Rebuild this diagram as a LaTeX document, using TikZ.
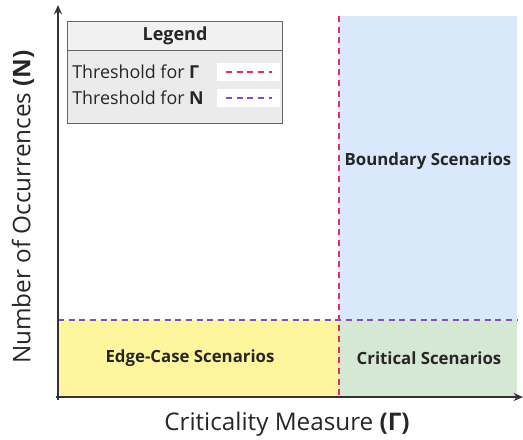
\documentclass[tikz,border=0pt]{standalone}
\usepackage{fontspec}
\setmainfont{Open Sans}
\usepackage{tikz}
\usetikzlibrary{arrows.meta}
\definecolor{bndblue}{HTML}{DAE8FC}
\definecolor{critgreen}{HTML}{D5E8D4}
\definecolor{edgeyellow}{HTML}{FFF59D}
\definecolor{gammared}{HTML}{DB2C77}
\definecolor{npurple}{HTML}{7E4FC8}
\definecolor{axisgray}{HTML}{333333}
\definecolor{legendgray}{HTML}{EBEBEB}

\begin{document}
\begin{tikzpicture}[x=0.75pt, y=-0.75pt,
      axis/.style={draw=axisgray, line width=1.2pt, -{Stealth[length=7pt,width=6pt]}},
      region/.style={font=\fontsize{12.6}{15}\selectfont\bfseries, text=black!85},
      axislabel/.style={font=\fontsize{18.2}{21}\selectfont, text=black!85},
      legendtext/.style={font=\fontsize{13.4}{16}\selectfont, text=black!85, anchor=west, inner sep=0pt},
      gthresh/.style={draw=gammared, line width=0.9pt, dash pattern=on 4.5pt off 3.5pt},
      nthresh/.style={draw=npurple, line width=0.9pt, dash pattern=on 4.5pt off 3.5pt}]
      \useasboundingbox (0,0) rectangle (523,439);
      % regions
      \fill[bndblue] (339,16) rectangle (517,320);
      \fill[edgeyellow] (58,320) rectangle (339,397);
      \fill[critgreen] (339,320) rectangle (517,397);
      % thresholds
      \coordinate (gtop) at (339,16);
      \coordinate (gbot) at (339,397);
      \coordinate (nleft) at (58,320);
      \coordinate (nright) at (517,320);
      \draw[gthresh] (gtop) -- (gbot);
      \draw[nthresh] (nleft) -- (nright);
      % axes
      \coordinate (origin) at (58,397);
      \coordinate (ytip) at (58,5);
      \coordinate (xtip) at (523,397);
      \draw[axis] ([yshift=-2pt]origin) -- (ytip);
      \draw[axis] ([xshift=-1.5pt]origin) -- (xtip);
      \node[axislabel, rotate=90] (ylab) at (23,207) {Number of Occurrences \textbf{(N)}};
      \node[axislabel] (xlab) at (287,424) {Criticality Measure \textbf{(Γ)}};
      % region labels
      \node[region] (boundary) at (428,161) {Boundary Scenarios};
      \node[region] (critical) at (429,358) {Critical Scenarios};
      \node[region] (edgecase) at (190,358) {Edge-Case Scenarios};
      % legend
      \draw[draw=black!60, fill=legendgray] (67,21) rectangle (282,123);
      \draw[draw=black!60, fill=legendgray!70] (67,21) rectangle (282,50);
      \node[font=\fontsize{13.5}{16}\selectfont\bfseries, text=black!85] (legend) at (175,36) {Legend};
      \node[legendtext] (lgamma) at (72,72) {Threshold for \textbf{Γ}};
      \node[legendtext] (lnum) at (72,98) {Threshold for \textbf{N}};
      \fill[white] (217,63) rectangle (280,81);
      \fill[white] (217,89) rectangle (280,107);
      \coordinate (ga) at (226,72);
      \coordinate (gb) at (272,72);
      \coordinate (na) at (226,98);
      \coordinate (nb) at (272,98);
      \draw[gthresh] (ga) -- (gb);
      \draw[nthresh] (na) -- (nb);
    \end{tikzpicture}
\end{document}
